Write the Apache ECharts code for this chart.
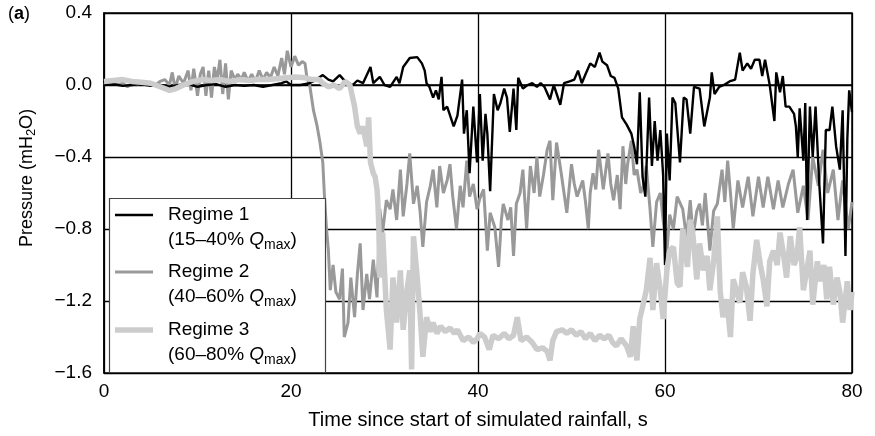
<!DOCTYPE html>
<html>
<head>
<meta charset="utf-8">
<script src="https://cdn.jsdelivr.net/npm/echarts@6/dist/echarts.min.js"></script>
<style>
html,body{margin:0;padding:0;background:#fff;}
#chart{width:875px;height:436px;}
</style>
</head>
<body>
<div id="chart"></div>
<script>
// ---- Data (time s, pressure mH2O) ----
const seriesNames = ['Regime 1', 'Regime 2', 'Regime 3'];
const legendRanges = ['(15\u201340% ', '(40\u201360% ', '(60\u201380% '];
const xTicks = [0, 20, 40, 60, 80];
const yTicks = [-1.6, -1.2, -0.8, -0.4, 0.0, 0.4];

const regime1 = [[0,0.0],[1,0.005],[2,-0.005],[3,0.0],[4,0.005],[5,-0.005],[6,0.0],[7,-0.01],[8,0.0],[9,0.005],[10,-0.01],[11,0.0],[12,0.005],[13,-0.01],[14,0.0],[15,-0.005],[16,0.0],[17,-0.01],[18,0.0],[19,0.01],[19.5,0.02],[20,0.0],[21,0.0],[22,0.01],[22.7,0.03],[23.4,0.055],[24,0.03],[24.5,0.02],[25.2,0.055],[25.8,0.02],[26.6,0.0],[27.1,0.025],[27.7,0.01],[28.5,0.1],[28.8,0.01],[29.5,0.045],[30,0.0],[30.6,-0.01],[31.3,0.045],[31.6,0.01],[32,0.1],[32.7,0.15],[33.5,0.155],[34,0.12],[34.3,0.08],[34.5,0.01],[34.8,-0.01],[35.2,-0.07],[35.5,-0.03],[35.8,-0.08],[36.1,0.045],[36.3,-0.14],[36.7,-0.12],[37.4,-0.23],[37.8,-0.17],[38.3,0.03],[38.5,-0.27],[38.8,-0.14],[39.1,-0.49],[39.5,-0.12],[39.9,-0.43],[40.2,-0.05],[40.5,-0.42],[40.8,-0.16],[41.0,-0.27],[41.3,-0.59],[41.7,-0.05],[42.1,-0.14],[42.4,-0.1],[42.8,-0.02],[43.1,-0.07],[43.4,-0.26],[43.8,-0.02],[44.1,-0.25],[44.3,0.04],[44.8,-0.02],[45.3,0.0],[45.8,0.01],[46.3,-0.01],[46.7,0.01],[47.1,-0.01],[47.7,-0.08],[48.1,0.0],[48.8,-0.11],[49.2,0.01],[49.8,0.02],[50.3,0.03],[50.7,0.08],[51.1,0.01],[51.5,0.06],[52.0,0.12],[52.5,0.1],[53.0,0.18],[53.3,0.13],[53.8,0.11],[54.2,0.05],[54.6,0.04],[55.0,-0.02],[55.4,-0.18],[55.9,-0.22],[56.4,-0.27],[56.7,-0.34],[57.0,-0.44],[57.3,-0.04],[57.6,-0.51],[57.9,-0.62],[58.3,-0.07],[58.6,-0.45],[58.9,-0.2],[59.2,-0.42],[59.5,-0.25],[59.8,-0.5],[60.0,-1.0],[60.2,-0.27],[60.5,-0.53],[60.8,-0.07],[61.1,-0.1],[61.6,-0.43],[62.0,-0.07],[62.3,-0.08],[62.7,-0.27],[63.1,-0.01],[63.7,-0.02],[64.2,-0.23],[64.8,-0.07],[65.0,0.07],[65.3,-0.05],[65.8,-0.01],[66.3,0.0],[66.9,0.02],[67.5,0.03],[68.0,0.18],[68.3,0.08],[68.8,0.12],[69.2,0.09],[69.6,0.14],[70.1,0.14],[70.4,0.05],[70.7,0.14],[71.2,0.0],[71.7,-0.2],[71.9,0.07],[72.3,-0.04],[72.6,0.05],[72.9,-0.12],[73.3,-0.12],[73.8,-0.16],[74.0,-0.23],[74.2,-0.4],[74.4,-0.13],[74.8,-0.42],[75.0,-0.1],[75.2,-0.75],[75.5,-0.12],[75.8,-0.4],[76.1,-0.12],[76.5,-0.55],[76.9,-0.88],[77.2,-0.25],[77.6,-0.25],[77.9,-0.12],[78.3,-0.34],[78.7,-0.47],[79.0,-0.14],[79.3,-0.95],[79.5,-0.3],[79.7,-0.03],[80,-0.15]];

const regime2 = [[0,0.0],[0.5,0.01],[1,0.02],[1.5,0.0],[2,0.01],[2.5,-0.01],[3,0.01],[3.5,0.0],[4,0.02],[4.5,0.0],[5,0.01],[5.5,0.0],[6,0.02],[6.5,0.03],[7,0.0],[7.3,0.07],[7.6,-0.02],[8,0.05],[8.5,0.01],[9,0.08],[9.3,-0.03],[9.6,0.09],[10,-0.06],[10.3,0.06],[10.6,0.1],[10.9,-0.06],[11.2,0.08],[11.5,-0.07],[11.8,0.1],[12.1,0.03],[12.4,0.14],[12.7,-0.05],[13,0.12],[13.3,-0.08],[13.6,0.08],[14,0.03],[14.3,0.06],[14.7,0.03],[15,0.07],[15.4,0.02],[15.8,0.06],[16.2,0.02],[16.6,0.08],[17,0.03],[17.4,0.07],[17.8,0.04],[18.2,0.1],[18.6,0.05],[19,0.15],[19.3,0.06],[19.6,0.19],[20,0.1],[20.4,0.16],[20.8,0.11],[21.2,0.13],[21.5,0.12],[21.7,0.04],[22.0,0.0],[22.4,-0.14],[22.8,-0.23],[23.1,-0.32],[23.4,-0.43],[23.6,-0.64],[23.8,-0.8],[24.0,-0.92],[24.2,-1.14],[24.5,-1.0],[24.8,-1.15],[25.2,-1.19],[25.5,-1.02],[25.7,-1.4],[26.1,-1.32],[26.4,-1.07],[26.8,-1.29],[27.1,-1.05],[27.4,-0.88],[27.7,-1.25],[28.1,-1.05],[28.4,-1.19],[28.8,-0.97],[29.2,-1.18],[29.5,-0.69],[29.8,-0.82],[30.2,-0.64],[30.6,-0.69],[30.9,-0.58],[31.3,-0.75],[31.7,-0.47],[32.0,-0.73],[32.4,-0.55],[32.7,-0.38],[33.1,-0.66],[33.5,-0.56],[33.8,-0.7],[34.1,-0.9],[34.5,-0.65],[34.9,-0.56],[35.2,-0.47],[35.6,-0.68],[35.9,-0.45],[36.3,-0.6],[36.7,-0.53],[37.0,-0.44],[37.3,-0.62],[37.7,-0.8],[38.1,-0.56],[38.4,-0.68],[38.8,-0.42],[39.1,-0.62],[39.5,-0.55],[39.9,-0.69],[40.2,-0.63],[40.6,-0.58],[41.0,-0.92],[41.3,-0.71],[41.8,-0.79],[42.2,-1.01],[42.5,-0.75],[42.7,-0.66],[43.2,-0.75],[43.5,-0.68],[43.8,-0.95],[44.1,-0.66],[44.5,-0.6],[44.8,-0.47],[45.2,-0.8],[45.6,-0.45],[46.0,-0.6],[46.3,-0.4],[46.6,-0.62],[47.0,-0.5],[47.4,-0.36],[47.7,-0.31],[48.0,-0.64],[48.4,-0.32],[48.9,-0.49],[49.2,-0.6],[49.5,-0.71],[50.0,-0.44],[50.3,-0.55],[50.6,-0.62],[51.2,-0.53],[51.5,-0.65],[51.8,-0.8],[52.0,-0.6],[52.3,-0.49],[52.6,-0.58],[52.9,-0.36],[53.4,-0.58],[53.9,-0.38],[54.2,-0.55],[54.5,-0.64],[54.9,-0.5],[55.2,-0.69],[55.5,-0.34],[55.8,-0.55],[56.0,-0.44],[56.4,-0.31],[56.7,-0.5],[57.0,-0.47],[57.4,-0.6],[57.7,-0.56],[58.0,-0.45],[58.4,-0.69],[58.7,-0.9],[59.1,-0.65],[59.5,-0.6],[59.8,-0.75],[60.2,-0.93],[60.5,-0.72],[60.9,-0.8],[61.3,-0.62],[61.9,-0.69],[62.3,-0.85],[62.7,-0.64],[63.0,-0.84],[63.4,-0.7],[63.7,-0.66],[64.0,-0.78],[64.3,-0.6],[64.8,-0.92],[65.2,-0.7],[65.6,-0.66],[66.1,-0.47],[66.4,-0.65],[66.7,-0.42],[67.0,-0.6],[67.3,-0.8],[67.8,-0.53],[68.3,-0.68],[68.9,-0.51],[69.4,-0.73],[70.0,-0.51],[70.5,-0.68],[71.0,-0.51],[71.6,-0.69],[72.1,-0.53],[72.6,-0.68],[73.2,-0.55],[73.7,-0.47],[74.2,-0.71],[74.8,-0.56],[75.3,-0.75],[75.8,-0.4],[76.4,-0.56],[76.9,-0.36],[77.4,-0.6],[78.0,-0.47],[78.5,-0.75],[79.0,-0.53],[79.6,-0.8],[80,-0.65]];

const regime3 = [[0,0.02],[1,0.025],[2,0.03],[3,0.02],[4,0.015],[5,0.01],[6,-0.01],[7,-0.03],[7.7,-0.02],[8.5,0.0],[9.5,0.02],[10.5,0.03],[11.5,0.025],[12.5,0.03],[13.5,0.02],[14.5,0.03],[15.5,0.025],[16.5,0.03],[17.5,0.03],[18.5,0.035],[19.5,0.04],[20.5,0.045],[21.5,0.04],[22.3,0.03],[23.0,0.03],[23.4,0.01],[24,-0.01],[24.6,0.0],[25.2,-0.02],[25.8,0.02],[26.3,0.0],[26.8,-0.12],[27.1,-0.23],[27.4,-0.27],[27.7,-0.23],[28.1,-0.34],[28.3,-0.18],[28.5,-0.43],[28.8,-0.49],[29.0,-0.51],[29.2,-0.58],[29.3,-0.66],[29.4,-0.8],[29.5,-1.07],[29.8,-0.82],[30.2,-1.25],[30.6,-1.47],[30.9,-1.07],[31.3,-1.32],[31.7,-1.03],[32.0,-1.36],[32.4,-1.14],[32.7,-1.03],[32.9,-1.58],[33.1,-0.84],[33.5,-1.07],[33.8,-1.27],[34.1,-1.51],[34.5,-1.29],[34.9,-1.37],[35.2,-1.32],[35.6,-1.38],[36.0,-1.34],[36.5,-1.37],[37.0,-1.35],[37.5,-1.38],[37.8,-1.36],[38.4,-1.42],[39.0,-1.4],[39.5,-1.43],[39.9,-1.41],[40.2,-1.38],[40.7,-1.4],[41.2,-1.47],[41.6,-1.39],[42.2,-1.41],[42.8,-1.38],[43.3,-1.41],[43.8,-1.39],[44.2,-1.29],[44.6,-1.42],[45.2,-1.4],[45.8,-1.43],[46.3,-1.47],[46.9,-1.46],[47.4,-1.48],[47.7,-1.53],[48.0,-1.42],[48.4,-1.37],[49.0,-1.36],[49.5,-1.38],[50.0,-1.36],[50.5,-1.39],[51.0,-1.37],[51.5,-1.41],[52.0,-1.38],[52.5,-1.42],[53.0,-1.39],[53.5,-1.41],[54.0,-1.39],[54.4,-1.43],[54.8,-1.45],[55.3,-1.41],[55.9,-1.45],[56.3,-1.51],[56.6,-1.34],[57.0,-1.53],[57.3,-1.3],[57.7,-1.21],[58.0,-1.14],[58.4,-0.96],[58.7,-1.25],[59.1,-0.99],[59.5,-1.14],[59.8,-1.3],[60.2,-1.03],[60.5,-0.92],[60.9,-0.9],[61.3,-1.1],[61.6,-1.12],[61.9,-0.8],[62.4,-1.01],[62.7,-0.75],[63.0,-0.84],[63.4,-1.08],[63.7,-0.88],[64.1,-1.03],[64.5,-0.95],[64.8,-1.14],[65.2,-0.98],[65.6,-0.73],[65.9,-1.14],[66.2,-1.29],[66.6,-1.19],[67.0,-1.4],[67.3,-1.08],[67.7,-1.15],[68.0,-1.21],[68.3,-1.04],[68.7,-1.12],[69.1,-1.31],[69.4,-1.05],[69.8,-0.86],[70.2,-1.0],[70.5,-1.08],[70.9,-1.23],[71.2,-0.98],[71.6,-0.92],[72.0,-1.0],[72.3,-0.82],[72.7,-0.95],[73.0,-1.07],[73.4,-0.84],[73.8,-1.0],[74.1,-0.96],[74.4,-0.79],[74.8,-1.14],[75.1,-1.05],[75.5,-0.92],[75.8,-1.22],[76.3,-0.98],[76.6,-1.09],[77.0,-1.0],[77.3,-1.19],[77.6,-1.01],[78.0,-1.22],[78.4,-1.07],[78.7,-1.15],[79.0,-1.32],[79.5,-1.09],[79.8,-1.25],[80,-1.15]];

// ---- Chart ----
const FONT = 'Liberation Sans, Arial, Helvetica, sans-serif';
const chart = echarts.init(document.getElementById('chart'), null, {renderer: 'canvas'});
const fmtY = v => (v < -1e-9 ? '\u2212' : '') + Math.abs(v).toFixed(1);

const seriesStyles = [
  {color: '#000000', width: 2.4, z: 3},
  {color: '#999999', width: 3, z: 2},
  {color: '#cccccc', width: 5.5, z: 4}
];
const seriesData = [regime1, regime2, regime3];

const legendRich = {
  t: {fontFamily: FONT, fontSize: 19, lineHeight: 25, fill: '#000'},
  q: {fontFamily: FONT, fontSize: 19, lineHeight: 25, fontStyle: 'italic', fill: '#000'},
  m: {fontFamily: FONT, fontSize: 14, lineHeight: 16, verticalAlign: 'bottom', fill: '#000'}
};

// legend drawn as graphic elements
const legendRowY = [215, 272, 330];
const legendGraphics = [
  {type: 'rect', z: 10, shape: {x: 109.5, y: 198.5, width: 216, height: 174}, style: {fill: '#fff', stroke: '#444', lineWidth: 1.2}}
];
seriesNames.forEach((nm, i) => {
  legendGraphics.push({type: 'line', z: 11, shape: {x1: 115, y1: legendRowY[i], x2: 153, y2: legendRowY[i]},
    style: {stroke: seriesStyles[i].color, lineWidth: seriesStyles[i].width}});
  legendGraphics.push({type: 'text', z: 11, x: 168, y: legendRowY[i] - 13,
    style: {text: '{t|' + nm + '}\n{t|' + legendRanges[i] + '}{q|Q}{m|max}{t|)}', rich: legendRich,
      verticalAlign: 'top', align: 'left'}});
});

const option = {
  animation: false,
  backgroundColor: '#fff',
  grid: {left: 104, right: 23, top: 13, bottom: 63, show: true, borderColor: '#000', borderWidth: 1.5, backgroundColor: 'transparent'},
  xAxis: {
    type: 'value', min: xTicks[0], max: xTicks[xTicks.length - 1], interval: 20,
    axisLine: {show: true, lineStyle: {color: '#000', width: 1.5}},
    axisTick: {show: true, inside: true, length: 4, lineStyle: {color: '#000'}},
    splitLine: {show: true, lineStyle: {color: '#000', width: 1.3}},
    axisLabel: {fontFamily: FONT, fontSize: 19, color: '#000', margin: 9},
    name: 'Time since start of simulated rainfall, s', nameLocation: 'middle', nameGap: 37,
    nameTextStyle: {fontFamily: FONT, fontSize: 20, color: '#000'}
  },
  yAxis: {
    type: 'value', min: yTicks[0], max: yTicks[yTicks.length - 1], interval: 0.4,
    axisLine: {show: true, lineStyle: {color: '#000', width: 1.5}},
    axisTick: {show: true, inside: true, length: 4, lineStyle: {color: '#000'}},
    splitLine: {show: true, lineStyle: {color: '#000', width: 1.3}},
    axisLabel: {fontFamily: FONT, fontSize: 19, color: '#000', margin: 12, formatter: fmtY}
  },
  graphic: legendGraphics.concat([
    {type: 'text', z: 5, x: 8, y: 5, style: {text: '({b|a})', fontFamily: FONT, fontSize: 18, fill: '#000', verticalAlign: 'top',
      rich: {b: {fontFamily: FONT, fontSize: 18, fontWeight: 'bold', fill: '#000'}}}},
    {type: 'text', z: 5, x: 27, y: 178, rotation: Math.PI / 2,
      style: {text: '{a|Pressure (mH}{s|2}{a|O)}', align: 'center', verticalAlign: 'middle',
        rich: {a: {fontFamily: FONT, fontSize: 18, lineHeight: 22, fill: '#000'},
               s: {fontFamily: FONT, fontSize: 13, lineHeight: 14, verticalAlign: 'bottom', fill: '#000'}}}}
  ]),
  series: seriesNames.map((nm, i) => ({
    name: nm, type: 'line', data: seriesData[i], showSymbol: false, symbol: 'none', z: seriesStyles[i].z,
    lineStyle: {color: seriesStyles[i].color, width: seriesStyles[i].width}, itemStyle: {color: seriesStyles[i].color}
  }))
};
chart.setOption(option);
</script>
</body>
</html>
